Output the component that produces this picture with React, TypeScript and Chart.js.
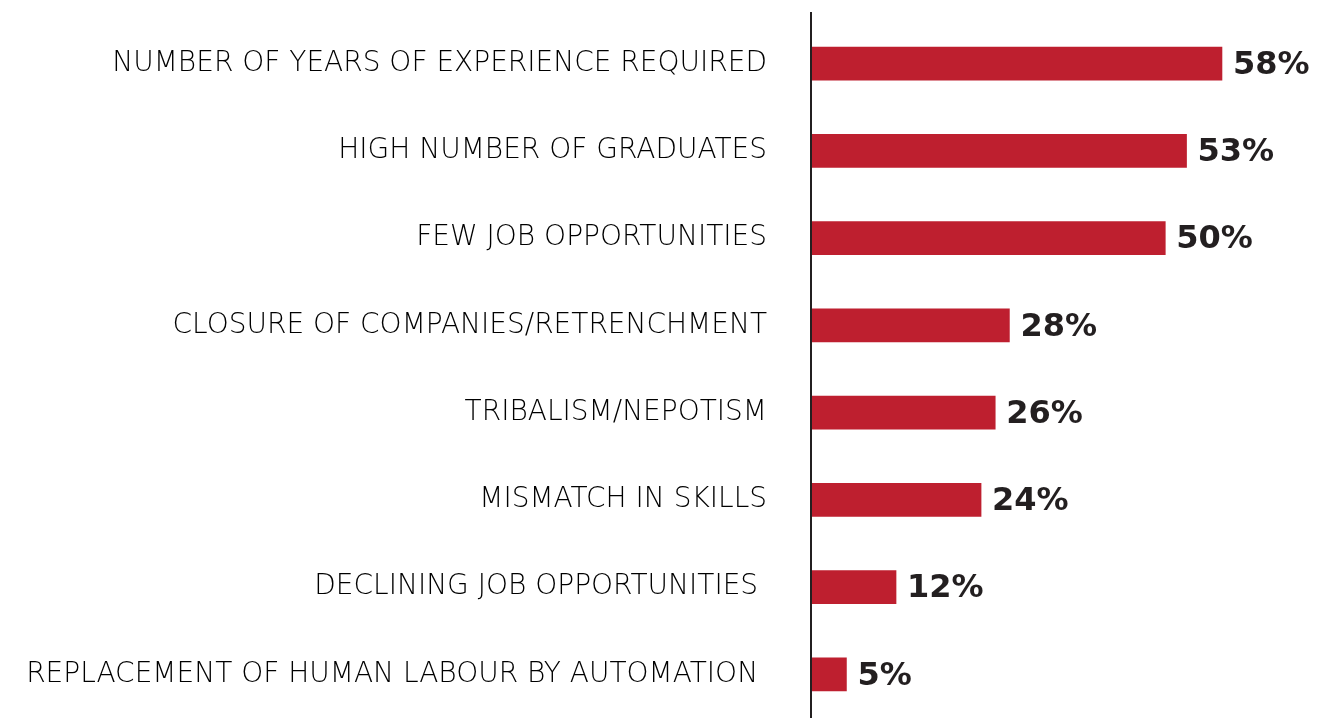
import React, { useEffect, useRef } from "react";
import { Chart, registerables } from "chart.js";

Chart.register(...registerables);

const categories = [
  "NUMBER OF YEARS OF EXPERIENCE REQUIRED",
  "HIGH NUMBER OF GRADUATES",
  "FEW JOB OPPORTUNITIES",
  "CLOSURE OF COMPANIES/RETRENCHMENT",
  "TRIBALISM/NEPOTISM",
  "MISMATCH IN SKILLS",
  "DECLINING JOB OPPORTUNITIES ",
  "REPLACEMENT OF HUMAN LABOUR BY AUTOMATION ",
];
const values = [58, 53, 50, 28, 26, 24, 12, 5];

const BAR_COLOR = "#BE1F2F";
const TEXT_COLOR = "#231F20";

const valueLabels = {
  id: "valueLabels",
  afterDatasetsDraw(chart: any) {
    const ctx = chart.ctx;
    const meta = chart.getDatasetMeta(0);
    ctx.save();
    ctx.font = "bold 32px 'DejaVu Sans'";
    ctx.fillStyle = TEXT_COLOR;
    ctx.textAlign = "left";
    ctx.textBaseline = "middle";
    meta.data.forEach((bar: any, i: number) => {
      ctx.fillText(values[i] + "%", bar.x + 11, bar.y + 2);
    });
    ctx.restore();
  },
};

const axisLine = {
  id: "axisLine",
  afterDraw(chart: any) {
    const ctx = chart.ctx;
    const x = chart.chartArea.left;
    ctx.save();
    ctx.strokeStyle = TEXT_COLOR;
    ctx.lineWidth = 2;
    ctx.beginPath();
    ctx.moveTo(x, 12);
    ctx.lineTo(x, chart.height);
    ctx.stroke();
    ctx.restore();
  },
};

export default function App() {
  const ref = useRef<HTMLCanvasElement>(null);
  useEffect(() => {
    if (!ref.current) return;
    const chart = new Chart(ref.current, {
      type: "bar",
      data: {
        labels: categories,
        datasets: [
          {
            data: values,
            backgroundColor: BAR_COLOR,
            barThickness: 33,
          },
        ],
      },
      options: {
        indexAxis: "y",
        animation: false,
        responsive: true,
        maintainAspectRatio: false,
        layout: { padding: { top: 20, right: 32, bottom: 0, left: 0 } },
        plugins: {
          legend: { display: false },
          tooltip: { enabled: false },
        },
        scales: {
          x: {
            min: 0,
            max: 70,
            display: false,
          },
          y: {
            afterFit(scale: any) {
              scale.width = 811;
              scale.paddingTop = 0;
              scale.paddingBottom = 0;
            },
            grid: { display: false, drawTicks: true, tickLength: 44, tickColor: "rgba(0,0,0,0)" },
            border: { display: false },
            ticks: {
              padding: 0,
              color: "#000000",
              font: { family: "'DejaVu Sans'", size: 28, weight: 200 as any },
            },
          },
        },
      },
      plugins: [valueLabels, axisLine],
    });
    return () => chart.destroy();
  }, []);
  return (
    <div style={{ position: "absolute", left: 0, top: 0, width: 1339, height: 718, background: "#fff" }}>
      <canvas ref={ref} />
    </div>
  );
}
